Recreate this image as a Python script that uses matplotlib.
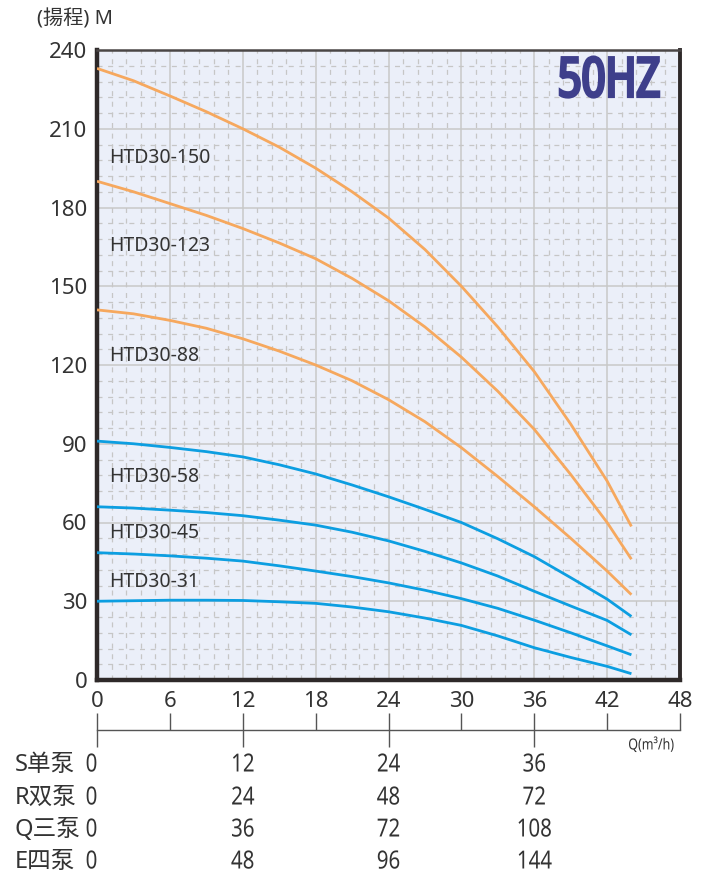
import matplotlib
matplotlib.use("Agg")
import matplotlib.pyplot as plt
from matplotlib.ticker import MultipleLocator, FixedLocator
from matplotlib.transforms import blended_transform_factory, Affine2D
from matplotlib.patheffects import AbstractPathEffect

# Q (m3/h) sampling points
flow = [0, 3, 6, 9, 12, 15, 18, 21, 24, 27, 30, 33, 36, 39, 42, 44]

# head (m) for each model
head_150 = [233, 228.3, 222.5, 216.5, 210, 203, 195, 186, 176, 164, 150, 134.5, 117.5, 97.5, 75.8, 58.5]
head_123 = [190, 186, 181.5, 177, 172, 166.5, 160.5, 153, 144.5, 134.5, 123, 110, 95.5, 78.3, 60, 46]
head_88 = [141, 139.5, 137, 134, 130, 125.3, 120, 114, 106.8, 98.4, 88.5, 77.5, 66, 54, 41.5, 32.5]
head_58 = [91, 90, 88.6, 87, 85, 82, 78.5, 74.3, 69.8, 65, 60, 53.8, 47, 39, 30.8, 24.2]
head_45 = [66, 65.5, 64.7, 63.8, 62.6, 60.9, 59, 56.3, 53, 49, 44.6, 39.6, 33.8, 28.2, 22.7, 17.2]
head_31 = [48.5, 48, 47.3, 46.4, 45.3, 43.5, 41.5, 39.4, 37, 34.2, 31, 27.3, 22.8, 18, 13, 9.6]
head_low = [30, 30.2, 30.4, 30.4, 30.3, 29.8, 29.2, 27.8, 26, 23.6, 20.8, 16.8, 12.3, 8.6, 5.2, 2.4]

models = ["HTD30-150", "HTD30-123", "HTD30-88", "HTD30-58", "HTD30-45", "HTD30-31", None]
heads = [head_150, head_123, head_88, head_58, head_45, head_31, head_low]

x_ticks = [0, 6, 12, 18, 24, 30, 36, 42, 48]
y_ticks = [0, 30, 60, 90, 120, 150, 180, 210, 240]

# multi-pump flow table
pump_rows = ["S单泵", "R双泵", "Q三泵", "E四泵"]
table_cols = [0, 12, 24, 36]
table_values = [
    [0, 12, 24, 36],
    [0, 24, 48, 72],
    [0, 36, 72, 108],
    [0, 48, 96, 144],
]

ORANGE = "#F6A85E"
BLUE = "#0C9EE1"
TXT = "#333333"
SANS = ["Noto Sans", "Noto Sans CJK SC", "DejaVu Sans"]


class Squeeze(AbstractPathEffect):
    """draw text narrower (no condensed font installed)"""

    def __init__(self, sx, anchor="center", stroke=0.0):
        super().__init__()
        self.sx = sx
        self.anchor = anchor
        self.stroke = stroke

    def draw_path(self, renderer, gc, tpath, affine, rgbFace=None):
        ext = tpath.get_extents(affine)
        if self.anchor == "left":
            x0 = ext.x0
        elif self.anchor == "right":
            x0 = ext.x1
        else:
            x0 = (ext.x0 + ext.x1) / 2
        squeeze = Affine2D().translate(-x0, 0).scale(self.sx, 1).translate(x0, 0)
        gc0 = renderer.new_gc()
        gc0.copy_properties(gc)
        if self.stroke > 0:
            gc0.set_linewidth(self.stroke)
            gc0.set_foreground(rgbFace)
            gc0.set_joinstyle("miter")
        else:
            gc0.set_linewidth(0)
        renderer.draw_path(gc0, tpath, affine + squeeze, rgbFace)
        gc0.restore()


W, H = 709, 876
fig = plt.figure(figsize=(W / 100, H / 100), dpi=100)
ax = fig.add_axes([97 / W, 1 - 680 / H, 583 / W, 630 / H])
ax.set_facecolor("#EBEFF9")

# curves
for name, h in zip(models, heads):
    color = BLUE if h[0] < 100 else ORANGE
    ax.plot(flow, h, color=color, lw=2.0, solid_capstyle="butt", zorder=3)

# curve labels (placed just under each curve's start)
label_y = [199, 165.5, 123.5, 77.5, 56, 37.5]
for name, ly in zip(models[:6], label_y):
    ax.text(1.0, ly, name, fontsize=14, color=TXT, family=SANS, va="center", ha="left", zorder=4)

ax.set_xlim(0, 48)
ax.set_ylim(0, 240)
ax.xaxis.set_major_locator(FixedLocator(x_ticks))
ax.yaxis.set_major_locator(FixedLocator(y_ticks))
ax.xaxis.set_minor_locator(MultipleLocator(1.2))
ax.yaxis.set_minor_locator(MultipleLocator(6))
ax.grid(which="major", color="#C8C8C8", lw=1.1, zorder=1)
ax.grid(which="minor", color="#C6C6C6", lw=0.9, ls=(0, (4, 4.5)), zorder=1)
ax.set_axisbelow(True)
ax.tick_params(which="both", length=0)
ax.tick_params(axis="y", pad=7, labelsize=16, labelcolor=TXT)
ax.tick_params(axis="x", pad=8, labelsize=16, labelcolor=TXT)
for lab in ax.get_xticklabels() + ax.get_yticklabels():
    lab.set_family(SANS)

for side in ["left", "bottom"]:
    ax.spines[side].set_linewidth(3.2)
    ax.spines[side].set_color("#2E2929")
ax.spines["right"].set_linewidth(2.8)
ax.spines["right"].set_color("#2E2929")
ax.spines["top"].set_linewidth(1.8)
ax.spines["top"].set_color("#4A4646")

hz = ax.text(0.967, 0.993, "50HZ", transform=ax.transAxes, ha="right", va="top",
             fontsize=39, fontweight="bold", color="#3E3F8B", family=SANS, zorder=5)
hz.set_path_effects([Squeeze(0.77, "right", stroke=2.4)])

fig.text(37 / W, 1 - 19 / H, "(揚程) M", fontsize=14.5, color=TXT, family=SANS,
         ha="left", va="center")

# secondary flow axis
ax2 = fig.add_axes([97 / W, 1 - 730 / H, 583 / W, 1e-6])
ax2.set_xlim(0, 48)
ax2.set_ylim(0, 1)
ax2.patch.set_visible(False)
for side in ["left", "right", "top"]:
    ax2.spines[side].set_visible(False)
ax2.spines["bottom"].set_color("#555555")
ax2.spines["bottom"].set_linewidth(1.0)
ax2.set_yticks([])
ax2.xaxis.set_major_locator(FixedLocator(table_cols))
ax2.xaxis.set_minor_locator(FixedLocator([6, 18, 30, 42, 48]))
ax2.tick_params(axis="x", which="major", direction="inout", length=24, width=1, color="#555555", labelbottom=False)
ax2.tick_params(axis="x", which="minor", direction="in", length=12, width=1, color="#555555")

tr = blended_transform_factory(ax2.transData, fig.transFigure)
q = ax2.text(47.5, 1 - 745 / H, "Q(m³/h)", transform=tr, fontsize=11, color=TXT,
             family=SANS, ha="right", va="center")
q.set_path_effects([Squeeze(0.82, "right")])

row_y = [765, 798, 830, 862]
for label, vals, ry in zip(pump_rows, table_values, row_y):
    fy = 1 - ry / H
    fig.text(15 / W, fy, label, fontsize=17, color=TXT, family=SANS, ha="left", va="center")
    for cx, v in zip(table_cols, vals):
        t = ax2.text(cx - 0.45 if cx == 0 else cx, fy, str(v), transform=tr, fontsize=18,
                     color=TXT, family=SANS, ha="center", va="center")
        t.set_path_effects([Squeeze(0.82, "center")])

fig.savefig("out.png", dpi=100)
